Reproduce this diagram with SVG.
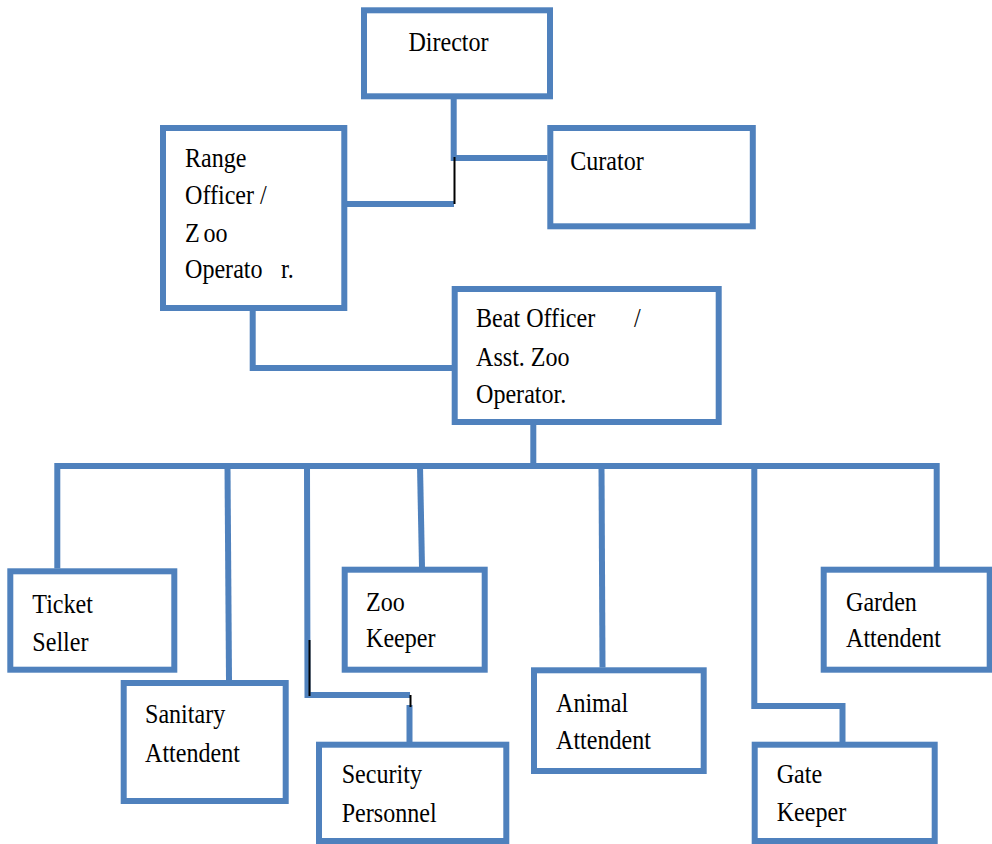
<svg xmlns="http://www.w3.org/2000/svg" width="992" height="844" viewBox="0 0 992 844">
<style>
.box{fill:#fff;stroke:#4F81BD;stroke-width:6}
.ln{fill:none;stroke:#4F81BD;stroke-width:6;stroke-linejoin:miter;stroke-linecap:butt}
.bk{fill:none;stroke:#000;stroke-width:2}
.t{font-family:'Liberation Serif',serif;font-size:28px;fill:#000}
</style>
<rect width="992" height="844" fill="#fff"/>
<g id="connectors">
<polyline class="ln" points="453.7,99 453.7,158 547.5,158"/>
<polyline class="ln" points="347,204 454,204"/>
<polyline class="ln" points="252.7,311 252.7,368 452,368"/>
<polyline class="ln" points="533.3,425 533.3,466"/>
<polyline class="ln" points="57.3,568.5 57.3,466 936.7,466 936.7,567"/>
<polyline class="ln" points="227.5,466 229,680.5"/>
<polyline class="ln" points="307,466 307.5,695 410,695"/>
<polyline class="ln" points="409.5,705 409.5,742"/>
<polyline class="ln" points="420,466 422,567"/>
<polyline class="ln" points="601.5,466 602.5,667.5"/>
<polyline class="ln" points="754.3,466 754.3,706 842.5,706 842.5,742"/>
<line class="bk" x1="454.5" y1="157" x2="454.5" y2="204"/>
<line class="bk" x1="309.5" y1="640" x2="309.5" y2="696"/>
<line class="bk" x1="410.5" y1="695" x2="410.5" y2="707"/>
</g>
<g id="director">
<rect class="box" x="364" y="10.3" width="186" height="86"/>
<text class="t" font-family="Liberation Serif, serif" transform="translate(408.4,50.7) scale(0.86,1)">Director</text>
</g>
<g id="range-officer">
<rect class="box" x="163" y="128" width="181.3" height="180"/>
<text class="t" font-family="Liberation Serif, serif" transform="translate(185,166.7) scale(0.86,1)"><tspan x="0" y="0">Range</tspan><tspan x="0" y="37.8">Officer /</tspan><tspan x="0" y="75">Z</tspan><tspan x="21.6" y="75">oo</tspan><tspan x="0" y="111.6">Operato</tspan><tspan x="111.6" y="111.6">r.</tspan></text>
</g>
<g id="curator">
<rect class="box" x="550.3" y="128" width="202.5" height="98.3"/>
<text class="t" font-family="Liberation Serif, serif" transform="translate(570.2,170) scale(0.86,1)">Curator</text>
</g>
<g id="beat-officer">
<rect class="box" x="454.7" y="289" width="264" height="133"/>
<text class="t" font-family="Liberation Serif, serif" transform="translate(476,327.3) scale(0.86,1)"><tspan x="0" y="0">Beat Officer</tspan><tspan x="183.7" y="0">/</tspan><tspan x="0" y="38.7">Asst. Zoo</tspan><tspan x="0" y="76">Operator.</tspan></text>
</g>
<g id="ticket-seller">
<rect class="box" x="10.3" y="571.3" width="164" height="98.4"/>
<text class="t" font-family="Liberation Serif, serif" transform="translate(32.3,613.3) scale(0.86,1)"><tspan x="0" y="0">Ticket</tspan><tspan x="0" y="37.4">Seller</tspan></text>
</g>
<g id="sanitary-attendent">
<rect class="box" x="123.7" y="683" width="162" height="118"/>
<text class="t" font-family="Liberation Serif, serif" transform="translate(145,722.7) scale(0.86,1)"><tspan x="0" y="0">Sanitary</tspan><tspan x="0" y="39">Attendent</tspan></text>
</g>
<g id="zoo-keeper">
<rect class="box" x="344.7" y="569.7" width="140" height="100"/>
<text class="t" font-family="Liberation Serif, serif" transform="translate(366,610.7) scale(0.86,1)"><tspan x="0" y="0">Zoo</tspan><tspan x="0" y="36.6">Keeper</tspan></text>
</g>
<g id="security-personnel">
<rect class="box" x="319" y="744.7" width="187.3" height="96.3"/>
<text class="t" font-family="Liberation Serif, serif" transform="translate(341.7,782.7) scale(0.86,1)"><tspan x="0" y="0">Security</tspan><tspan x="0" y="39">Personnel</tspan></text>
</g>
<g id="animal-attendent">
<rect class="box" x="534" y="670.3" width="169.7" height="100.7"/>
<text class="t" font-family="Liberation Serif, serif" transform="translate(556,711.7) scale(0.86,1)"><tspan x="0" y="0">Animal</tspan><tspan x="0" y="37.6">Attendent</tspan></text>
</g>
<g id="garden-attendent">
<rect class="box" x="823.7" y="569.7" width="166" height="100"/>
<text class="t" font-family="Liberation Serif, serif" transform="translate(846,610.7) scale(0.86,1)"><tspan x="0" y="0">Garden</tspan><tspan x="0" y="36.6">Attendent</tspan></text>
</g>
<g id="gate-keeper">
<rect class="box" x="754.7" y="744.7" width="180" height="96.3"/>
<text class="t" font-family="Liberation Serif, serif" transform="translate(776.7,783.3) scale(0.86,1)"><tspan x="0" y="0">Gate</tspan><tspan x="0" y="37.4">Keeper</tspan></text>
</g>
</svg>
